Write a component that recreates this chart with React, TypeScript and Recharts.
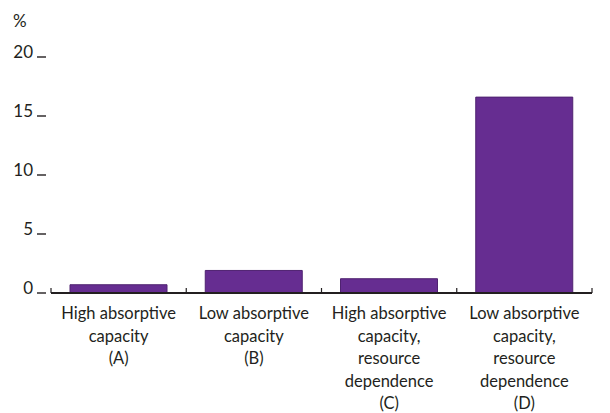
import { BarChart, Bar, XAxis, YAxis } from "recharts";

const categories = [
  "High absorptive\ncapacity\n(A)",
  "Low absorptive\ncapacity\n(B)",
  "High absorptive\ncapacity,\nresource\ndependence\n(C)",
  "Low absorptive\ncapacity,\nresource\ndependence\n(D)",
];
const values = [0.7, 1.91, 1.21, 16.6];
const yTicks = [0, 5, 10, 15, 20];

const data = categories.map((name, i) => ({ name, value: values[i] }));

const INK = "#231f20";
const FONT = "Lato, sans-serif";

function LeftTick(props: any) {
  const { x, y, payload } = props;
  return (
    <g>
      <text x={x - 18} y={y + 0.5} textAnchor="end" fontSize={17} fontFamily={FONT} fill={INK}>
        {payload.value}
      </text>
      <line x1={x - 14} x2={x - 5} y1={y} y2={y} stroke={INK} strokeWidth={1.4} />
    </g>
  );
}

function RightTick(props: any) {
  const { x, y } = props;
  return <line x1={x + 5} x2={x + 14} y1={y} y2={y} stroke={INK} strokeWidth={1.4} />;
}

function CatTick(props: any) {
  const { x, y, payload, index, width } = props;
  const bw = width / categories.length;
  const lines = String(payload.value).split("\n");
  const last = index === categories.length - 1;
  return (
    <g>
      <line x1={x - bw / 2} x2={x - bw / 2} y1={y} y2={y - 5} stroke={INK} strokeWidth={1.2} />
      {last && <line x1={x + bw / 2} x2={x + bw / 2} y1={y} y2={y - 5} stroke={INK} strokeWidth={1.2} />}
      <text textAnchor="middle" fontSize={16.5} fontFamily={FONT} fill={INK}>
        {lines.map((l, i) => (
          <tspan key={i} x={x} y={y + 26 + i * 22.5}>
            {l}
          </tspan>
        ))}
      </text>
    </g>
  );
}

export default function App() {
  return (
    <div style={{ position: "absolute", left: 0, top: 0, background: "#fff" }}>
      <BarChart
        width={610}
        height={413}
        data={data}
        margin={{ top: 57, right: 0, bottom: 0, left: 0 }}
      >
        <text x={13} y={27} fontSize={17} fontFamily={FONT} fill={INK}>
          %
        </text>
        <XAxis
          dataKey="name"
          height={120}
          interval={0}
          tickSize={0}
          tickMargin={0}
          tickLine={false}
          axisLine={{ stroke: INK, strokeWidth: 2 }}
          tick={<CatTick />}
        />
        <YAxis
          yAxisId="l"
          width={51}
          domain={[0, 20]}
          ticks={yTicks}
          tickSize={0}
          tickMargin={0}
          tickLine={false}
          axisLine={false}
          tick={<LeftTick />}
        />
        <YAxis
          yAxisId="r"
          orientation="right"
          width={18}
          domain={[0, 20]}
          ticks={yTicks}
          tickSize={0}
          tickMargin={0}
          tickLine={false}
          axisLine={false}
          tick={<RightTick />}
        />
        <Bar
          yAxisId="l"
          dataKey="value"
          fill="#662d91"
          stroke="#4f2270"
          strokeWidth={1}
          barSize={97}
          isAnimationActive={false}
        />
      </BarChart>
    </div>
  );
}
